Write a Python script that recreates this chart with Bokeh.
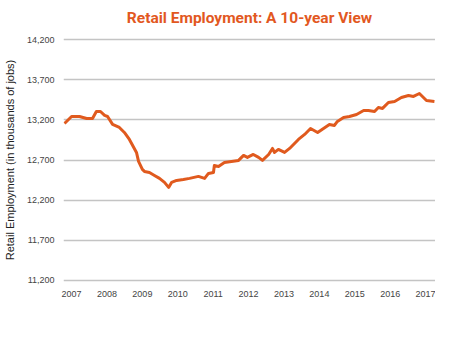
from bokeh.plotting import figure
from bokeh.models import Range1d, FixedTicker, NumeralTickFormatter
from bokeh.embed import file_html
from bokeh.resources import INLINE

# Data: months since Oct 2006 (series start) and retail employment (thousands of jobs)
start_year = 2006.8
months = [0, 2.4, 5.1, 7.5, 9.5, 10.8, 12.2, 13.6, 14.6, 16.3, 18.6, 20.3, 22, 24.4,
          25.1, 26.4, 27.1, 28.8, 30.5, 32.2, 33.9, 35.3, 36.3, 38, 40.3, 42.4, 45.4,
          47.5, 48.8, 50.5, 50.8, 52.2, 54.2, 56.6, 59, 60.7, 62, 64, 65.8, 67.1, 69.2,
          70.5, 71.2, 72.5, 74.6, 76.3, 79.3, 81.4, 83.4, 85.8, 87.8, 89.8, 91.5, 92.5,
          94.6, 96.6, 99, 101.4, 103, 105.1, 106.4, 107.8, 109.8, 111.9, 114.2, 116.6,
          118.3, 120.3, 122.7, 125.4]
employment = [13155, 13242, 13242, 13217, 13217, 13304, 13304, 13255, 13242, 13143,
              13105, 13043, 12956, 12794, 12682, 12583, 12558, 12545, 12508, 12471,
              12421, 12359, 12421, 12446, 12458, 12471, 12496, 12471, 12533, 12545,
              12632, 12620, 12670, 12682, 12695, 12757, 12732, 12769, 12732, 12695,
              12769, 12844, 12794, 12832, 12794, 12844, 12956, 13018, 13093, 13043,
              13093, 13143, 13130, 13180, 13230, 13242, 13267, 13317, 13317, 13304,
              13354, 13342, 13416, 13429, 13478, 13503, 13491, 13528, 13441, 13429]
years = list(range(2007, 2018))
y_ticks = [11200, 11700, 12200, 12700, 13200, 13700, 14200]

x = [start_year + m / 12 for m in months]

p = figure(frame_width=372, frame_height=245, output_backend="svg", toolbar_location=None,
           x_range=Range1d(2006.772, 2017.28), y_range=Range1d(11175, 14225),
           min_border_left=62, min_border_right=0, min_border_bottom=60, min_border_top=0,
           title="Retail Employment: A 10-year View")

p.title.text_font = "Roboto"
p.title.text_font_size = "15.5px"
p.title.text_font_style = "bold"
p.title.text_color = "#E2581F"
p.title.align = "center"
p.title.vertical_align = "top"
p.title.offset = -22
p.title.standoff = 17

p.line(x, employment, line_color="#E05A1E", line_width=3, line_join="round")

p.outline_line_color = None
p.xgrid.grid_line_color = None
p.ygrid.grid_line_color = "#c4c4c4"
p.ygrid.grid_line_width = 1.5

p.yaxis.ticker = FixedTicker(ticks=y_ticks)
p.yaxis.formatter = NumeralTickFormatter(format="0,0")
p.xaxis.ticker = FixedTicker(ticks=years)

for ax in (p.xaxis[0], p.yaxis[0]):
    ax.axis_line_color = None
    ax.major_tick_line_color = None
    ax.minor_tick_line_color = None
    ax.major_tick_out = 0
    ax.major_tick_in = 0
    ax.minor_tick_out = 0
    ax.minor_tick_in = 0
    ax.major_label_text_font = "Liberation Sans"
    ax.major_label_text_font_size = "9px"
    ax.major_label_text_color = "#444444"

p.yaxis.major_label_standoff = 9
p.xaxis.major_label_standoff = 8

p.yaxis.axis_label = "Retail Employment (in thousands of jobs)"
p.yaxis.axis_label_text_font = "Liberation Sans"
p.yaxis.axis_label_text_font_size = "11px"
p.yaxis.axis_label_text_font_style = "normal"
p.yaxis.axis_label_text_color = "#222222"
p.yaxis.axis_label_standoff = 8

open("out.html", "w").write(file_html(p, INLINE))
